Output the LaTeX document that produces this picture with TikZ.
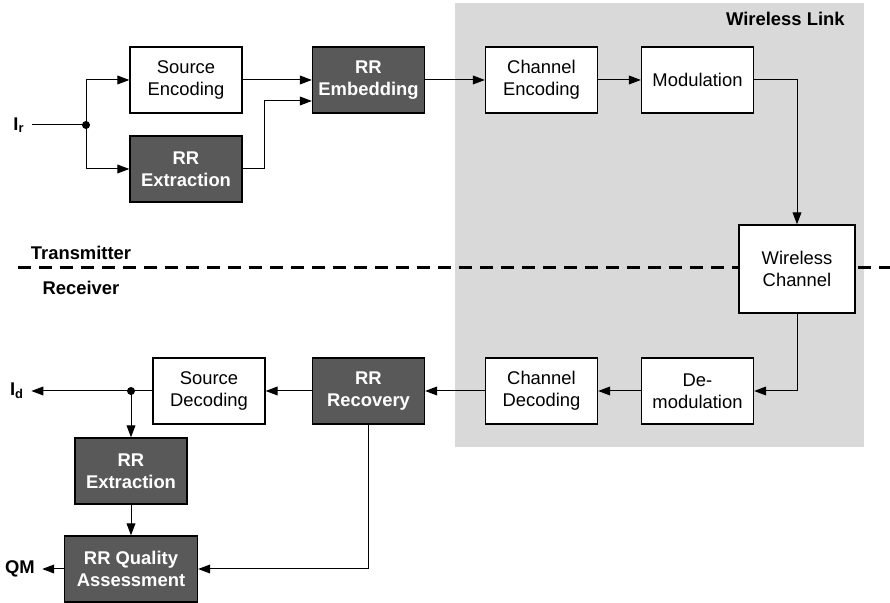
\documentclass[tikz,border=0pt]{standalone}
\usepackage{fontspec}
\setmainfont{Liberation Sans}
\usetikzlibrary{arrows.meta}
\definecolor{linkgray}{HTML}{D9D9D9}
\definecolor{rrgray}{HTML}{595959}
\begin{document}
\begin{tikzpicture}[
  x=0.5pt, y=-0.5pt,
  font=\fontsize{9.2}{11}\selectfont,
  every node/.style={align=center},
  >={Triangle[length=6pt,width=4.4pt]},
  conn/.style={line width=0.5pt},
  box/.style={draw, line width=0.65pt, fill=white, minimum width=56pt, minimum height=33pt, inner sep=1pt},
  rrbox/.style={box, fill=rrgray, text=white, font=\fontsize{9.2}{11}\selectfont\bfseries},
  lbl/.style={font=\fontsize{9.2}{11}\selectfont\bfseries, inner sep=3.5pt},
]
\useasboundingbox (0,0) rectangle (890,603);
\fill[linkgray] (455,3) rectangle (864,447);
\node[lbl, anchor=east] (wlink) at (852,19) {Wireless Link};
\draw[line width=1.5pt, dash pattern=on 6.5pt off 4pt] (18,268) -- (890,268);
\node[lbl] (tx) at (81,253) {Transmitter};
\node[lbl] (rx) at (81,288) {Receiver};
% transmitter
\node[lbl] (ir) at (19,125) {I\textsubscript{r}};
\coordinate (split) at (86,125);
\node[box] (srcenc) at (186,80) {Source\\Encoding};
\node[rrbox] (rrext1) at (186,169) {RR\\Extraction};
\node[rrbox] (rremb) at (368.5,80) {RR\\Embedding};
\node[box] (chenc) at (541.5,80) {Channel\\Encoding};
\node[box] (mod) at (697.5,80) {Modulation};
\node[box, minimum width=58pt, minimum height=44pt] (wch) at (797,269) {Wireless\\Channel};
\draw[conn] (ir) -- (split);
\fill (split) circle (2pt);
\draw[conn, ->] (split) |- (srcenc);
\draw[conn, ->] (split) |- (rrext1);
\draw[conn, ->] (srcenc) -- (rremb);
\draw[conn, ->] (rrext1.east) -- ++(22,0) |- ([yshift=-10.5pt]rremb.west);
\draw[conn, ->] (rremb) -- (chenc);
\draw[conn, ->] (chenc) -- (mod);
\draw[conn, ->] (mod) -| (wch);
% receiver
\node[box] (demod) at (697.5,391) {De-\\modulation};
\node[box] (chdec) at (541.5,391) {Channel\\Decoding};
\node[rrbox] (rrrec) at (368.5,391) {RR\\Recovery};
\node[box] (srcdec) at (209,391) {Source\\Decoding};
\node[lbl] (id) at (17,391) {I\textsubscript{d}};
\coordinate (join) at (131,391);
\node[rrbox] (rrext2) at (131,471) {RR\\Extraction};
\node[rrbox, minimum width=66.5pt] (rrqa) at (131,569) {RR Quality\\Assessment};
\node[lbl] (qm) at (20,569) {QM};
\draw[conn, ->] (wch) |- (demod);
\draw[conn, ->] (demod) -- (chdec);
\draw[conn, ->] (chdec) -- (rrrec);
\draw[conn, ->] (rrrec) -- (srcdec);
\draw[conn, ->] (srcdec) -- (id);
\fill (join) circle (2pt);
\draw[conn, ->] (join) -- (rrext2);
\draw[conn, ->] (rrext2) -- (rrqa);
\draw[conn, ->] (rrrec) |- (rrqa);
\draw[conn, ->] (rrqa) -- (qm);
\end{tikzpicture}
\end{document}
